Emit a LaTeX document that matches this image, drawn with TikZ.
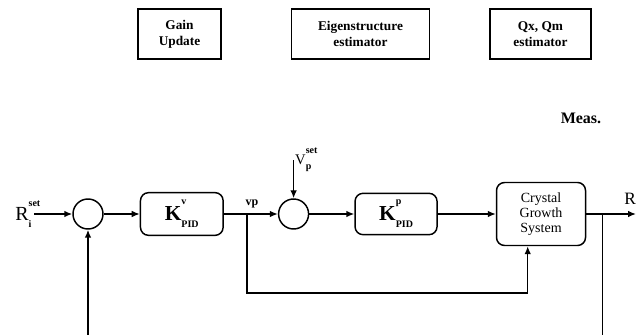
\documentclass[tikz,border=0pt]{standalone}
\usepackage{fontspec}
\setmainfont{Liberation Serif}
\usetikzlibrary{arrows.meta,calc,positioning}
\tikzset{
  topbox/.style={draw, line width=1.1pt, minimum height=37.5pt, align=center, font=\bfseries\fontsize{10}{12}\selectfont},
  block/.style={draw, rounded corners=6pt, line width=1.1pt, minimum width=62pt, minimum height=32pt, align=center},
  sum/.style={circle, draw, line width=1.1pt, minimum size=22.5pt, inner sep=0pt},
  sig/.style={-{Latex[length=6pt,width=5pt]}, line width=1.1pt},
  wire/.style={line width=1.1pt},
  biglbl/.style={font=\fontsize{15}{17}\selectfont, inner sep=1pt}
}
% letter with a script set high above and a script set low below
\newcommand{\stackedsym}[3]{#1\rlap{\raisebox{0.72em}{\fontsize{7.5}{8}\selectfont\bfseries #2}}\raisebox{-0.35em}{\fontsize{7.5}{8}\selectfont\bfseries #3}}

\begin{document}
\begin{tikzpicture}[x=0.75pt,y=-0.75pt]
  \useasboundingbox (0,0) rectangle (637,335);

  % supervisory level
  \node[topbox, minimum width=62.25pt] (gain) at (179.5,34) {Gain\\Update};
  \node[topbox, minimum width=103.5pt, right=51.75pt of gain] (eigen) {Eigenstructure\\estimator};
  \node[topbox, minimum width=75.75pt, right=44.25pt of eigen] (qest) {Qx, Qm\\estimator};
  \node[font=\bfseries\fontsize{12}{14}\selectfont] (meas) at (581,118) {Meas.};

  % control loop
  \node[sum] (s1) at (88,214) {};
  \node[block, right=27pt of s1, font=\bfseries\fontsize{16}{18}\selectfont] (kv) {\stackedsym{K}{v}{PID}};
  \node[sum, right=40.5pt of kv] (s2) {};
  \node[block, right=33.75pt of s2, minimum width=61.5pt, minimum height=31pt, font=\bfseries\fontsize{16}{18}\selectfont] (kp) {\stackedsym{K}{p}{PID}};
  \node[block, right=43.5pt of kp, minimum width=66.75pt, minimum height=47.25pt, font=\fontsize{10.5}{11.5}\selectfont] (plant) {Crystal\\Growth\\System};

  \coordinate (rin) at (34,214);
  \coordinate (out) at (636,214);
  \coordinate (bv) at ($(kv.east)+(23,0)$);
  \coordinate (bo) at ($(plant.east)+(16,0)$);
  \coordinate (vin) at ($(s2.north)+(0,-38)$);
  \coordinate (fbl) at (88,335);
  \coordinate (fbr) at ($(bo)+(0,121)$);

  \node[biglbl, anchor=east] (rilbl) at ($(rin)+(-1,0)$) {\stackedsym{R}{set}{i}};
  \node[font=\fontsize{13}{15}\selectfont, anchor=base west, inner sep=0pt] (rlbl) at (624,205) {R};
  \node[font=\bfseries\fontsize{9}{10}\selectfont, anchor=south, inner sep=1pt] (vplbl) at ($(bv)+(5,-4)$) {vp};
  \node[font=\fontsize{11}{13}\selectfont, anchor=south west, inner sep=1pt] (vslbl) at ($(vin)+(0,13)$) {\stackedsym{V}{set}{p}};

  \draw[sig] (rin) -- (s1);
  \draw[sig] (s1) -- (kv);
  \draw[sig] (kv) -- (s2);
  \draw[sig] (s2) -- (kp);
  \draw[sig] (kp) -- (plant);
  \draw[sig] (plant) -- (out);
  \draw[sig] (vin) -- (s2.north);
  \draw[sig] (bv) -- ++(0,79) -| ([xshift=-10pt]plant.south);
  \draw[sig] (fbl) -- (s1.south);
  \draw[wire] (bo) -- (fbr);
\end{tikzpicture}
\end{document}
